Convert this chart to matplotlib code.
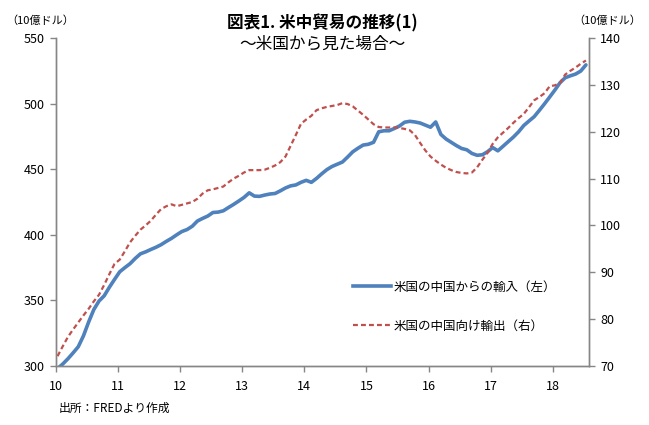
import numpy as np
import matplotlib.pyplot as plt
from matplotlib.lines import Line2D

plt.rcParams['font.family'] = ['Noto Sans CJK JP', 'DejaVu Sans']

# monthly data, Jan 2010 - Jul 2018 (x = year - 2000)
imports_from_china = [
    298, 301.5, 305.5, 310, 314.7, 323, 333.5, 343, 349.5, 353.5, 360, 366,
    371.8, 375, 378, 382, 385.5, 387, 388.8, 390.5, 392.5, 395, 397.3, 400,
    402.5, 404, 406.5, 410.5, 412.5, 414.3, 417, 417.3, 418.3, 420.8, 423.2, 425.8,
    428.5, 432, 429.5, 429.3, 430.3, 431.1, 431.5, 433.5, 435.7, 437.3, 438, 440,
    441.5, 440, 443, 446.5, 449.7, 452.1, 453.8, 455.5, 459.3, 463.3, 466, 468.4,
    469, 470.5, 478.5, 479.3, 479.3, 481, 482.9, 485.8, 486.5, 486, 485.2, 483.6,
    482, 486, 476.5, 473, 470.5, 468, 465.8, 464.8, 462, 460.6, 461, 463.3,
    466.5, 464, 467.5, 471, 474.5, 478.5, 483.3, 486.7, 490, 494.8, 499.8, 505,
    510.3, 515.9, 519.7, 521.2, 522.5, 524.8, 529.5,
]
exports_to_china = [
    72.1, 74.2, 76.2, 77.8, 79.3, 80.8, 82.2, 83.8, 85.2, 87.3, 89.6, 91.8,
    92.7, 94.5, 96.4, 97.8, 99.1, 100, 101, 102.3, 103.5, 104.1, 104.5, 104.1,
    104.4, 104.7, 105, 105.7, 106.8, 107.5, 107.7, 108, 108.3, 109.2, 110, 110.6,
    111.3, 111.8, 111.8, 111.8, 111.9, 112.3, 112.8, 113.5, 114.7, 117, 119.3, 121.7,
    122.6, 123.4, 124.6, 125, 125.3, 125.5, 125.7, 126.1, 125.9, 125.4, 124.5, 123.6,
    122.6, 121.6, 121, 120.9, 120.9, 120.9, 120.8, 120.6, 120.3, 119.3, 117.6, 116,
    114.7, 113.8, 113, 112.3, 111.8, 111.4, 111.2, 111.1, 111.3, 112.4, 114, 115.5,
    117.4, 118.8, 119.8, 120.8, 121.9, 122.9, 123.8, 125.2, 126.7, 127.4, 128.2, 129.7,
    129.9, 130.4, 132.2, 133, 133.7, 134.5, 135.2,
]
months = np.arange(len(imports_from_china))
x = 10.03 + months / 12

blue = '#4F81BD'
red = '#C0504D'
axis_col = '#868686'

fig = plt.figure(figsize=(6.49, 4.25), dpi=100)
ax = fig.add_axes([0.0858, 0.1388, 0.8218, 0.7718])
ax2 = ax.twinx()

ax.plot(x, imports_from_china, color=blue, linewidth=2.6, solid_capstyle='round')
ax2.plot(x, exports_to_china, color=red, linewidth=1.6, linestyle=(0, (2.2, 1.4)))

ax.set_xlim(10, 18.58)
ax.set_ylim(300, 550)
ax2.set_ylim(70, 140)
ax.set_xticks(range(10, 19))
ax.set_yticks(range(300, 551, 50))
ax2.set_yticks(range(70, 141, 10))

for a in (ax, ax2):
    a.spines['top'].set_visible(False)
    for s in ('left', 'right', 'bottom'):
        a.spines[s].set_color(axis_col)
        a.spines[s].set_linewidth(1.0)
    a.tick_params(colors=axis_col, labelcolor='black', labelsize=9, length=4, width=1)
ax.tick_params(axis='x', pad=6)
ax.tick_params(axis='y', pad=4)
ax2.tick_params(axis='y', pad=4)

fig.text(0.497, 0.945, '図表1. 米中貿易の推移(1)', ha='center', va='center',
         fontsize=12, fontweight='bold')
fig.text(0.497, 0.895, '～米国から見た場合～', ha='center', va='center', fontsize=12)
fig.text(0.062, 0.952, '（10億ドル）', ha='center', va='center', fontsize=8)
fig.text(0.935, 0.952, '（10億ドル）', ha='center', va='center', fontsize=8)
fig.text(0.09, 0.04, '出所：FREDより作成', ha='left', va='center', fontsize=8.5)

handles = [Line2D([], [], color=blue, linewidth=2.6),
           Line2D([], [], color=red, linewidth=1.6, linestyle=(0, (2.2, 1.4)))]
labels = ['米国の中国からの輸入（左）', '米国の中国向け輸出（右）']
fig.legend(handles, labels, loc='upper left', bbox_to_anchor=(0.535, 0.355),
           frameon=False, fontsize=9, handlelength=3.0, handletextpad=0.2,
           labelspacing=2.1, borderpad=0)

fig.savefig('out.png', dpi=100)
